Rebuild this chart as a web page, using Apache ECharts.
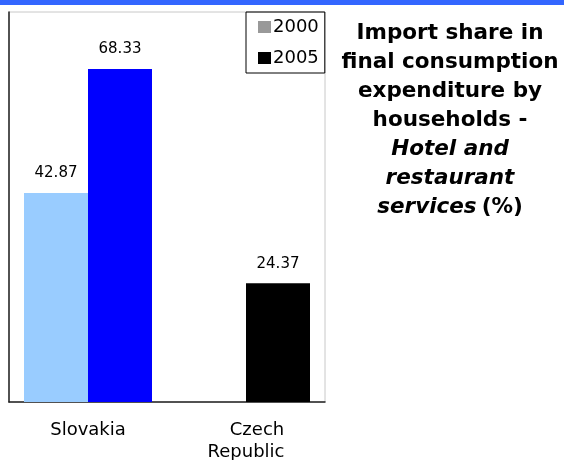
<!DOCTYPE html>
<html>
<head>
<meta charset="utf-8">
<script src="https://cdn.jsdelivr.net/npm/echarts@6/dist/echarts.min.js"></script>
<style>
  html,body{margin:0;padding:0;background:#fff;}
  #main{width:564px;height:460px;}
</style>
</head>
<body>
<div id="main"></div>
<script>
var categories=['Slovakia','Czech Republic'];
var years=['2000','2005'];
var values2000=[42.87,null];
var values2005=[68.33,24.37];
// legend colours and the colours the bars actually use
var legendColors=['#999999','#000000'];
var barColors2000=['#99ccff','#99ccff'];
var barColors2005=['#0000ff','#000000'];

function buildData(vals,cols){
    var out=[];
    for(var i=0;i<vals.length;i++){
        if(vals[i]===null){
            out.push('-');
        }else{
            out.push({value:vals[i],itemStyle:{color:cols[i]}});
        }
    }
    return out;
}

var myChart=echarts.init(document.getElementById('main'));
var fontFam='DejaVu Sans';
var labelStyle={
    show:true,
    position:'top',
    distance:12,
    fontFamily:fontFam,
    fontSize:15,
    color:'#000',
    formatter:function(p){return p.value.toFixed(2);}
};

var option={
    animation:false,
    backgroundColor:'#fff',
    title:{
        left:450,
        top:19,
        textAlign:'center',
        padding:0,
        text:'{b|Import share in}\n{b|final consumption}\n{b|expenditure by}\n{b|households -}\n{i|Hotel and}\n{i|restaurant}\n{i|services} {b|(%)}',
        textStyle:{
            rich:{
                b:{fontFamily:fontFam,fontWeight:'bold',fontSize:21.5,lineHeight:29,color:'#000'},
                i:{fontFamily:fontFam,fontWeight:'bold',fontStyle:'italic',fontSize:21.5,lineHeight:29,color:'#000'}
            }
        }
    },
    graphic:[{
        type:'rect',
        left:0,top:0,
        shape:{width:564,height:5},
        style:{fill:'#3366ff'}
    }],
    legend:{
        orient:'vertical',
        left:246,
        top:12,
        padding:[6,6,6,12],
        itemGap:13,
        itemWidth:13,
        itemHeight:12,
        icon:'rect',
        borderColor:'#000',
        borderWidth:1,
        textStyle:{fontFamily:fontFam,fontSize:18,color:'#000',padding:[0,0,0,-3]},
        data:[
            {name:years[0],itemStyle:{color:legendColors[0]}},
            {name:years[1],itemStyle:{color:legendColors[1]}}
        ]
    },
    grid:{
        left:9,
        top:12,
        right:239,
        bottom:58,
        outerBoundsMode:'none',
        show:true,
        borderColor:'#c8c8c8',
        borderWidth:1
    },
    xAxis:{
        type:'category',
        data:categories,
        axisLine:{lineStyle:{color:'#222',width:1.5}},
        axisTick:{show:false},
        axisLabel:{
            margin:17,
            interval:0,
            fontFamily:fontFam,
            fontSize:18,
            lineHeight:22,
            color:'#000',
            formatter:function(v){
                if(v==='Czech Republic'){
                    return '{c|Czech}\n{d|Republic}';
                }
                return v;
            },
            rich:{
                c:{fontFamily:fontFam,fontSize:18,lineHeight:22,color:'#000',padding:[0,0,0,22]},
                d:{fontFamily:fontFam,fontSize:18,lineHeight:22,color:'#000'}
            }
        }
    },
    yAxis:{
        type:'value',
        min:0,
        max:80,
        axisLine:{show:true,lineStyle:{color:'#222',width:1.5}},
        axisTick:{show:false},
        axisLabel:{show:false},
        splitLine:{show:false}
    },
    series:[{
        name:years[0],
        type:'bar',
        barWidth:64,
        barGap:'0%',
        itemStyle:{color:legendColors[0]},
        label:labelStyle,
        data:buildData(values2000,barColors2000)
    },{
        name:years[1],
        type:'bar',
        barWidth:64,
        barGap:'0%',
        itemStyle:{color:legendColors[1]},
        label:labelStyle,
        data:buildData(values2005,barColors2005)
    }]
};
myChart.setOption(option);
</script>
</body>
</html>
